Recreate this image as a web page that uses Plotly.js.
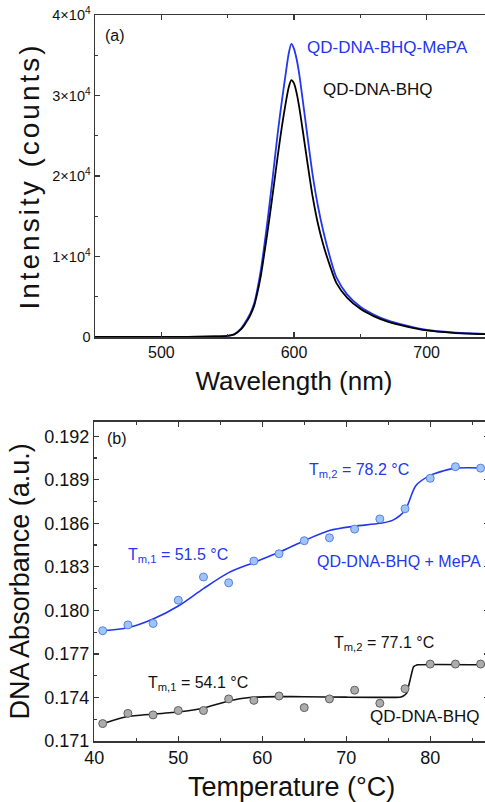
<!DOCTYPE html>
<html>
<head>
<meta charset="utf-8">
<script src="https://cdn.plot.ly/plotly-3.0.1.min.js"></script>
<style>
html, body { margin: 0; padding: 0; overflow: hidden; background: #fff; }
#chart { width: 500px; height: 812px; }
.ytitle { letter-spacing: 3px; }
</style>
</head>
<body>
<div id="chart"></div>
<script>
// ---------- Panel (a): emission spectra ----------
const wavelength = [450, 500, 520, 540, 550, 555, 560, 562, 565, 567, 570, 572, 575, 577, 580, 584, 588, 591, 594, 596, 598, 600, 602, 604, 607, 610, 614, 618, 622, 627, 632, 640, 650, 660, 670, 685, 700, 720, 750];
const intensityMePA = [0, 0, 10, 60, 150, 350, 1050, 1500, 2300, 2900, 4200, 5600, 8300, 10600, 14400, 19900, 25700, 29500, 33000, 35200, 36400, 35800, 34500, 32600, 28900, 25100, 20200, 16300, 13200, 10000, 7400, 5300, 3760, 2800, 2100, 1400, 870, 560, 330];
const intensityBHQ = [0, 0, 10, 60, 140, 320, 950, 1350, 2100, 2700, 3900, 5200, 7600, 9700, 13000, 17800, 22800, 26300, 29300, 31000, 31900, 31500, 30300, 28500, 25200, 21800, 17500, 14100, 11500, 8900, 6700, 4900, 3500, 2600, 1950, 1300, 820, 520, 310];
const intensityTickVals = [0, 10000, 20000, 30000, 40000];
const intensityTickText = ['0', '1×10<sup>4</sup>', '2×10<sup>4</sup>', '3×10<sup>4</sup>', '4×10<sup>4</sup>'];

// ---------- Panel (b): DNA melting ----------
const tempPoints = [41, 44, 47, 50, 53, 56, 59, 62, 65, 68, 71, 74, 77, 80, 83, 86];
const absMePA = [0.1786, 0.1790, 0.1791, 0.1807, 0.1823, 0.1819, 0.1834, 0.1839, 0.1848, 0.1850, 0.1856, 0.1863, 0.1870, 0.1891, 0.1899, 0.1898];
const absBHQ = [0.1722, 0.1729, 0.1728, 0.1731, 0.1731, 0.1739, 0.1738, 0.1741, 0.1733, 0.1739, 0.1745, 0.1736, 0.1746, 0.1763, 0.1763, 0.1763];
const tempFitMePA = [41, 44, 47, 50, 53, 56, 59, 62, 65, 68, 71, 74, 75.5, 77, 78.3, 80, 81.5, 83, 87];
const fitMePA = [0.1786, 0.1788, 0.1794, 0.1803, 0.1815, 0.1826, 0.1833, 0.1840, 0.1848, 0.1855, 0.1858, 0.1860, 0.1862, 0.1869, 0.1886, 0.1893, 0.1896, 0.1898, 0.1898];
const tempFitBHQ = [41, 44, 47, 50, 53, 56, 58.5, 62, 65, 70, 76.4, 76.8, 77.2, 77.6, 78, 78.5, 87];
const fitBHQ = [0.1722, 0.1727, 0.17285, 0.1730, 0.17326, 0.17376, 0.1740, 0.17406, 0.17405, 0.17402, 0.17402, 0.1741, 0.1743, 0.1752, 0.1761, 0.17625, 0.17625];

const W = 500, H = 812;
const FONT = 'Liberation Sans, Arial, Helvetica, sans-serif';
const px = x => x / W;
const py = y => (H - y) / H;
const BLUE = 'rgb(35,55,240)';
const AX = 'rgb(55,55,55)';

const traces = [
  { x: wavelength, y: intensityMePA, type: 'scatter', mode: 'lines', line: { color: BLUE, width: 1.8, shape: 'spline', smoothing: 0.7 }, xaxis: 'x', yaxis: 'y', name: 'QD-DNA-BHQ-MePA' },
  { x: wavelength, y: intensityBHQ, type: 'scatter', mode: 'lines', line: { color: '#000', width: 1.8, shape: 'spline', smoothing: 0.7 }, xaxis: 'x', yaxis: 'y', name: 'QD-DNA-BHQ' },
  { x: tempFitMePA, y: fitMePA, type: 'scatter', mode: 'lines', line: { color: BLUE, width: 1.6, shape: 'spline', smoothing: 0.8 }, xaxis: 'x2', yaxis: 'y2', name: 'fit MePA' },
  { x: tempFitBHQ, y: fitBHQ, type: 'scatter', mode: 'lines', line: { color: '#111', width: 1.6, shape: 'spline', smoothing: 0.3 }, xaxis: 'x2', yaxis: 'y2', name: 'fit BHQ' },
  { x: tempPoints, y: absMePA, type: 'scatter', mode: 'markers', marker: { size: 8, color: 'rgb(160,196,248)', line: { color: 'rgb(85,130,225)', width: 1 } }, xaxis: 'x2', yaxis: 'y2', name: 'QD-DNA-BHQ + MePA' },
  { x: tempPoints, y: absBHQ, type: 'scatter', mode: 'markers', marker: { size: 8, color: 'rgb(172,172,172)', line: { color: 'rgb(95,95,95)', width: 1 } }, xaxis: 'x2', yaxis: 'y2', name: 'QD-DNA-BHQ' }
];

const axBase = {
  showline: true, linecolor: AX, linewidth: 1.5, mirror: 'ticks',
  ticks: 'inside', ticklen: 5, tickwidth: 1.3, tickcolor: AX,
  showgrid: false, zeroline: false, automargin: false,
  tickfont: { family: FONT, color: '#111' }
};

const layout = {
  width: W, height: H,
  margin: { l: 0, r: 0, t: 0, b: 0 },
  paper_bgcolor: '#fff', plot_bgcolor: '#fff',
  showlegend: false,
  font: { family: FONT, color: '#111' },
  xaxis: Object.assign({}, axBase, {
    domain: [px(95), px(493)], anchor: 'y', range: [450, 750],
    tick0: 500, dtick: 100, tickfont: { family: FONT, size: 16, color: '#111' },
    minor: { dtick: 50, tick0: 450, ticks: 'inside', ticklen: 3, tickcolor: AX },
    title: { text: 'Wavelength (nm)', font: { family: FONT, size: 26, color: '#111' }, standoff: 12 }
  }),
  yaxis: Object.assign({}, axBase, {
    domain: [py(337), py(15)], anchor: 'x', range: [0, 40000],
    tickmode: 'array', tickvals: intensityTickVals, ticktext: intensityTickText,
    tickfont: { family: FONT, size: 14.5, color: '#111' },
    minor: { tickmode: 'linear', tick0: 0, dtick: 5000, ticks: 'inside', ticklen: 3, tickcolor: AX },
    title: { text: 'Intensity (counts)', font: { family: FONT, size: 28, color: '#111' }, standoff: 4 }
  }),
  xaxis2: Object.assign({}, axBase, {
    domain: [px(94.3), px(489)], anchor: 'y2', range: [40, 87],
    tick0: 40, dtick: 10, tickfont: { family: FONT, size: 18, color: '#111' },
    minor: { dtick: 5, tick0: 40, ticks: 'inside', ticklen: 3, tickcolor: AX },
    title: { text: 'Temperature (°C)', font: { family: FONT, size: 27, color: '#111' }, standoff: 10 }
  }),
  yaxis2: Object.assign({}, axBase, {
    domain: [py(741), py(421.7)], anchor: 'x2', range: [0.171, 0.193],
    tick0: 0.171, dtick: 0.003, tickformat: '.3f',
    tickfont: { family: FONT, size: 18, color: '#111' },
    minor: { tick0: 0.171, dtick: 0.0015, ticks: 'inside', ticklen: 3, tickcolor: AX },
    title: { text: 'DNA Absorbance (a.u.)', font: { family: FONT, size: 27, color: '#111' }, standoff: 6 }
  }),
  annotations: [
    { text: '(a)', x: px(115), y: py(35), xref: 'paper', yref: 'paper', xanchor: 'center', yanchor: 'middle', showarrow: false, font: { family: FONT, size: 16, color: '#111' } },
    { text: 'QD-DNA-BHQ-MePA', x: px(305), y: py(47.5), xref: 'paper', yref: 'paper', xanchor: 'left', yanchor: 'middle', showarrow: false, font: { family: FONT, size: 17, color: BLUE } },
    { text: 'QD-DNA-BHQ', x: px(321), y: py(89.5), xref: 'paper', yref: 'paper', xanchor: 'left', yanchor: 'middle', showarrow: false, font: { family: FONT, size: 17, color: '#111' } },
    { text: '(b)', x: px(117), y: py(438.5), xref: 'paper', yref: 'paper', xanchor: 'center', yanchor: 'middle', showarrow: false, font: { family: FONT, size: 16, color: '#111' } },
    { text: 'T<sub>m,1</sub> = 51.5 °C', x: px(126), y: py(555), xref: 'paper', yref: 'paper', xanchor: 'left', yanchor: 'middle', showarrow: false, font: { family: FONT, size: 16, color: BLUE } },
    { text: 'T<sub>m,2</sub> = 78.2 °C', x: px(307), y: py(470), xref: 'paper', yref: 'paper', xanchor: 'left', yanchor: 'middle', showarrow: false, font: { family: FONT, size: 16, color: BLUE } },
    { text: 'QD-DNA-BHQ + MePA', x: px(315), y: py(561), xref: 'paper', yref: 'paper', xanchor: 'left', yanchor: 'middle', showarrow: false, font: { family: FONT, size: 16, color: BLUE } },
    { text: 'T<sub>m,1</sub> = 54.1 °C', x: px(146), y: py(683), xref: 'paper', yref: 'paper', xanchor: 'left', yanchor: 'middle', showarrow: false, font: { family: FONT, size: 16, color: '#111' } },
    { text: 'T<sub>m,2</sub> = 77.1 °C', x: px(332), y: py(643), xref: 'paper', yref: 'paper', xanchor: 'left', yanchor: 'middle', showarrow: false, font: { family: FONT, size: 16, color: '#111' } },
    { text: 'QD-DNA-BHQ', x: px(368), y: py(716.5), xref: 'paper', yref: 'paper', xanchor: 'left', yanchor: 'middle', showarrow: false, font: { family: FONT, size: 17, color: '#111' } }
  ]
};

Plotly.newPlot('chart', traces, layout, { staticPlot: true, displayModeBar: false, responsive: false });
</script>
</body>
</html>
